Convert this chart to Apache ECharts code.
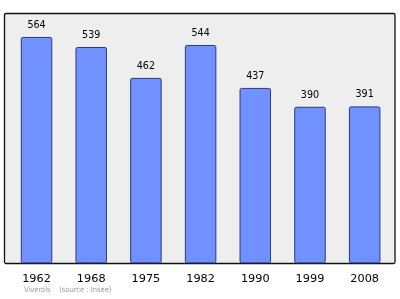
<!DOCTYPE html>
<html><head><meta charset="utf-8">
<script src="https://cdn.jsdelivr.net/npm/echarts@6/dist/echarts.min.js"></script>
<style>html,body{margin:0;padding:0;background:#fff}#c{width:400px;height:299px}</style>
</head><body><div id="c"></div>
<script>
var years = ['1962','1968','1975','1982','1990','1999','2008'];
var population = [564, 539, 462, 544, 437, 390, 391];
var footnote = 'Viverols    (source : Insee)';

var chart = echarts.init(document.getElementById('c'), null, {renderer:'canvas'});
chart.setOption({
  animation: false,
  backgroundColor: '#ffffff',
  graphic: [
    {type:'rect', z:0, shape:{x:4.5, y:13.5, width:390.5, height:250, r:1.5},
     style:{fill:'#eeeeee', stroke:'#111111', lineWidth:1.3}},
    {type:'text', z:10, left:24, top:286,
     style:{text:footnote, fill:'#9a9a9a', font:'7.5px "DejaVu Sans Condensed", "DejaVu Sans", sans-serif'}}
  ],
  grid: {left:9.2, right:8, top:22.5, bottom:35.7, containLabel:false},
  xAxis: {
    type:'category', data: years,
    axisLine:{show:false}, axisTick:{show:false},
    axisLabel:{color:'#000', fontSize:11.3, fontFamily:'DejaVu Sans', margin:10}
  },
  yAxis: {
    type:'value', min:0, max:600, show:false, splitLine:{show:false}
  },
  series: [{
    type:'bar', data: population, barWidth:31.5, z:2,
    itemStyle:{color:'#7091ff', borderColor:'#2b3a7a', borderWidth:1, borderRadius:1.5},
    label:{show:true, position:'top', distance:6.5, color:'#000', fontSize:9.6, fontFamily:'DejaVu Sans'}
  }]
});
</script></body></html>
